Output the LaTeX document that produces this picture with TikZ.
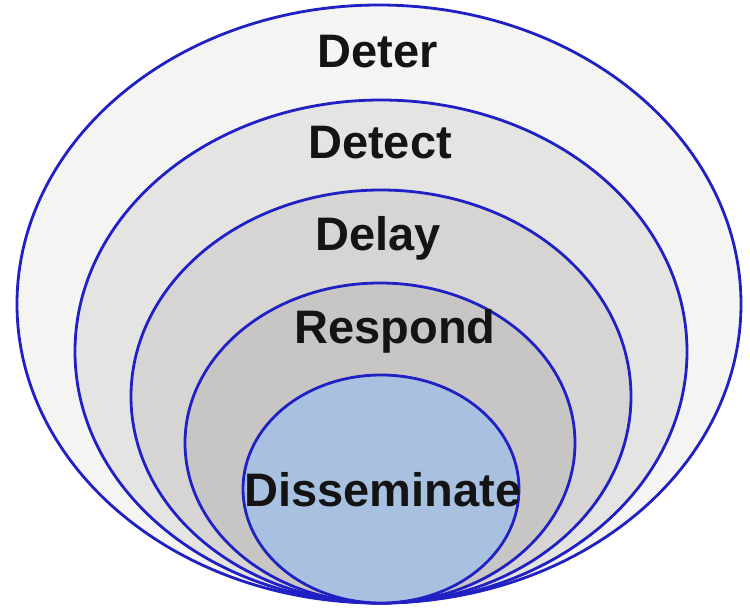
\documentclass[tikz,border=0pt]{standalone}
\usepackage{fontspec}
\setmainfont{Liberation Sans}
\definecolor{ringline}{HTML}{2020C4}
\definecolor{fillA}{HTML}{F4F4F3}
\definecolor{fillB}{HTML}{E4E4E3}
\definecolor{fillC}{HTML}{D6D5D4}
\definecolor{fillD}{HTML}{C7C6C5}
\definecolor{fillE}{HTML}{A9C1E1}
\definecolor{txt}{HTML}{141414}
\tikzset{
  ring/.style={draw=ringline, line width=2.8pt},
  lbl/.style={font=\bfseries\fontsize{47}{50}\selectfont, text=txt, inner sep=0pt}
}
\begin{document}
\begin{tikzpicture}[x=1pt,y=-1pt]
\useasboundingbox (0,0) rectangle (750,608);
\fill[white] (0,0) rectangle (750,608);
\filldraw[ring, fill=fillA] (379,304) ellipse [x radius=362, y radius=299];
\filldraw[ring, fill=fillB] (381,351.5) ellipse [x radius=306, y radius=251.5];
\filldraw[ring, fill=fillC] (381,396.5) ellipse [x radius=250, y radius=206.5];
\filldraw[ring, fill=fillD] (380,443) ellipse [x radius=195, y radius=160];
\filldraw[ring, fill=fillE] (381,489) ellipse [x radius=138, y radius=114];
\node[lbl] (deter) at (378,52) {Deter};
\node[lbl] (detect) at (380,143) {Detect};
\node[lbl] (delay) at (378,238) {Delay};
\node[lbl] (respond) at (395,331) {Respond};
\node[lbl] (dissem) at (383,490) {Disseminate};
\end{tikzpicture}
\end{document}
